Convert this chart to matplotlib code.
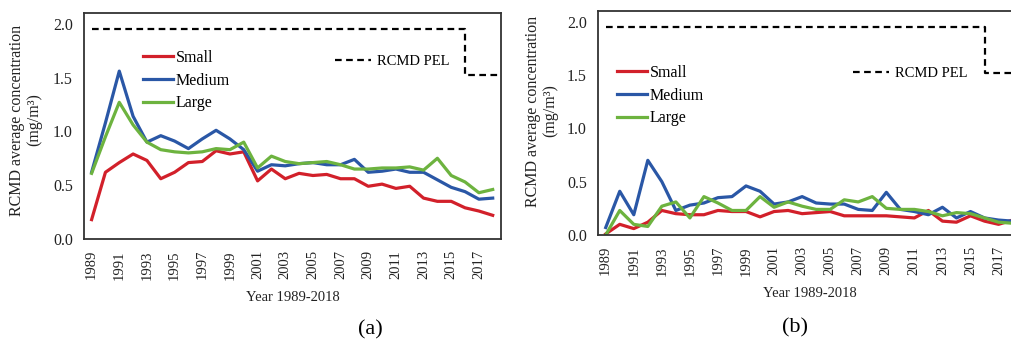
'''
RCMD average concentration by mine size, 1989-2018, two panels.
'''

import matplotlib
matplotlib.use('Agg')
import matplotlib.pyplot as plt

plt.rcParams['font.family'] = ['Liberation Serif', 'DejaVu Serif']

years = list(range(1989, 2019))

# panel (a)
small_a = [0.18, 0.62, 0.71, 0.79, 0.73, 0.56, 0.62, 0.71, 0.72, 0.82,
           0.79, 0.81, 0.54, 0.65, 0.56, 0.61, 0.59, 0.60, 0.56, 0.56,
           0.49, 0.51, 0.47, 0.49, 0.38, 0.35, 0.35, 0.29, 0.26, 0.22]
medium_a = [0.62, 1.08, 1.56, 1.14, 0.90, 0.96, 0.91, 0.84, 0.93, 1.01,
            0.93, 0.83, 0.63, 0.69, 0.68, 0.70, 0.71, 0.69, 0.69, 0.74,
            0.62, 0.63, 0.65, 0.62, 0.62, 0.55, 0.48, 0.44, 0.37, 0.38]
large_a = [0.61, 0.95, 1.27, 1.06, 0.90, 0.83, 0.81, 0.80, 0.81, 0.84,
           0.83, 0.90, 0.66, 0.77, 0.72, 0.70, 0.71, 0.72, 0.69, 0.65,
           0.65, 0.66, 0.66, 0.67, 0.64, 0.75, 0.59, 0.53, 0.43, 0.46]

# panel (b)
small_b = [0.01, 0.10, 0.06, 0.12, 0.23, 0.20, 0.19, 0.19, 0.23, 0.22,
           0.22, 0.17, 0.22, 0.23, 0.20, 0.21, 0.22, 0.18, 0.18, 0.18,
           0.18, 0.17, 0.16, 0.23, 0.13, 0.12, 0.18, 0.13, 0.10, 0.14]
medium_b = [0.07, 0.41, 0.19, 0.70, 0.50, 0.23, 0.28, 0.30, 0.35, 0.36,
            0.46, 0.41, 0.29, 0.31, 0.36, 0.30, 0.29, 0.29, 0.24, 0.23,
            0.40, 0.24, 0.22, 0.19, 0.26, 0.16, 0.22, 0.16, 0.14, 0.13]
large_b = [0.00, 0.23, 0.10, 0.08, 0.27, 0.31, 0.16, 0.36, 0.30, 0.23,
           0.23, 0.36, 0.26, 0.31, 0.27, 0.24, 0.24, 0.33, 0.31, 0.36,
           0.25, 0.24, 0.24, 0.22, 0.18, 0.21, 0.20, 0.16, 0.12, 0.11]

# permissible exposure limit step
pel_years = [1989, 2016, 2016, 2018.6]
pel_values = [1.95, 1.95, 1.52, 1.52]

tick_years = years[::2]
ylabel = 'RCMD average concentration\n(mg/m\u00b3)'

RED = '#d2202a'
BLUE = '#2a57a6'
GREEN = '#6db33f'

W, H = 1012., 341.
fig = plt.figure(figsize=(W / 100, H / 100), dpi=100)

# axes boxes in pixels: left, top, right, bottom
boxes = [(84, 13, 501, 239), (598, 11, 1021, 235)]
panels = [(small_a, medium_a, large_a), (small_b, medium_b, large_b)]
legend_pos = [((143, 50), (335, 55)), ((617, 65), (853, 67))]
ylab_x = [26, 542]
ylab_y = [120, 111]
caption = [('(a)', 370, 330), ('(b)', 795, 328)]

for i in range(2):
    l, t, r, b = boxes[i]
    ax = fig.add_axes([l / W, 1 - b / H, (r - l) / W, (b - t) / H])
    small, medium, large = panels[i]
    hs, = ax.plot(years, small, color=RED, lw=2.3, label='Small')
    hm, = ax.plot(years, medium, color=BLUE, lw=2.3, label='Medium')
    hl, = ax.plot(years, large, color=GREEN, lw=2.3, label='Large')
    hp, = ax.plot(pel_years, pel_values, color='black', lw=1.6,
                  linestyle=(0, (3, 2)), label='RCMD PEL')

    ax.set_xlim(1988.45, 2018.6)
    ax.set_ylim(0, 2.1)
    ax.set_yticks([0, 0.5, 1.0, 1.5, 2.0])
    ax.set_yticklabels(['0.0', '0.5', '1.0', '1.5', '2.0'])
    ax.set_xticks(tick_years)
    ax.set_xticklabels([str(y) for y in tick_years], rotation=90)
    ax.tick_params(length=0, labelsize=10.5, colors='#222222')
    ax.tick_params(axis='y', pad=8, labelsize=11.5)
    ax.tick_params(axis='x', pad=8)
    for sp in ax.spines.values():
        sp.set_color('#333333')
        sp.set_linewidth(1.3)

    ax.set_xlabel('Year 1989-2018', fontsize=10.5, color='#222222', labelpad=8)

    (lx, ly), (px, py) = legend_pos[i]
    leg = ax.legend(handles=[hs, hm, hl], loc='upper left',
                    bbox_to_anchor=(lx / W, 1 - ly / H),
                    bbox_transform=fig.transFigure, frameon=False,
                    fontsize=11.5, handlelength=1.9, handletextpad=0.15,
                    labelspacing=0.42, borderpad=0, borderaxespad=0)
    ax.add_artist(leg)
    ax.legend(handles=[hp], loc='upper left',
              bbox_to_anchor=(px / W, 1 - py / H),
              bbox_transform=fig.transFigure, frameon=False,
              fontsize=10.5, handlelength=2.5, handletextpad=0.4,
              borderpad=0, borderaxespad=0)

    fig.text(ylab_x[i] / W, 1 - ylab_y[i] / H, ylabel, rotation=90,
             ha='center', va='center', multialignment='center',
             fontsize=11.5, color='#222222', linespacing=1.1)

    txt, cx, cy = caption[i]
    fig.text(cx / W, 1 - cy / H, txt, ha='center', va='center', fontsize=16)

fig.savefig('out.png', dpi=100)
